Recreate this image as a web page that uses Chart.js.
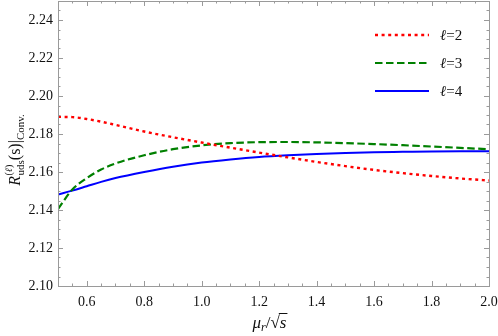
<!DOCTYPE html>
<html>
<head>
<meta charset="utf-8">
<script src="https://cdn.jsdelivr.net/npm/chart.js@4.4.0/dist/chart.umd.min.js"></script>
<style>
    html, body { margin: 0; padding: 0; background: #fff; }
    #wrap { width: 498px; height: 336px; }
</style>
</head>
<body>
<div id="wrap"><canvas id="chart" width="498" height="336"></canvas></div>
<script>
// Valores de mu_r / sqrt(s)
const muValues = [0.5, 0.55, 0.6, 0.65, 0.7, 0.8, 0.9, 1.0, 1.1, 1.2, 1.3, 1.4, 1.5, 1.6, 1.7, 1.8, 1.9, 2.0];

// R_uds para cada ordem l
const rL2 = [2.1890, 2.1889, 2.1879, 2.1865, 2.1848, 2.1813, 2.1783, 2.1755, 2.1728, 2.1702, 2.1677, 2.1653, 2.1631, 2.1611, 2.1594, 2.1579, 2.1566, 2.1555];
const rL3 = [2.1405, 2.1508, 2.1568, 2.1613, 2.1645, 2.1688, 2.1720, 2.1740, 2.1752, 2.1757, 2.1758, 2.1756, 2.1752, 2.1747, 2.1741, 2.1734, 2.1727, 2.1720];
const rL4 = [2.1482, 2.1502, 2.1525, 2.1548, 2.1568, 2.1600, 2.1628, 2.1650, 2.1666, 2.1679, 2.1688, 2.1695, 2.1700, 2.1704, 2.1706, 2.1708, 2.1709, 2.1709];

const seriesLabels = ['2', '3', '4'];

// Rótulos dos eixos
const xTicks = [0.6, 0.8, 1.0, 1.2, 1.4, 1.6, 1.8, 2.0];
const xTickLabels = ['0.6', '0.8', '1.0', '1.2', '1.4', '1.6', '1.8', '2.0'];
const yTicks = [2.10, 2.12, 2.14, 2.16, 2.18, 2.20, 2.22, 2.24];
const yTickLabels = ['2.10', '2.12', '2.14', '2.16', '2.18', '2.20', '2.22', '2.24'];

const SERIF = "'Liberation Serif', 'DejaVu Serif', serif";
const FRAME = '#9a9a9a';

const toPoints = (ys) => ys.map((y, i) => ({ x: muValues[i], y }));

// desenha uma sequência de pedaços de texto (normal / itálico / sub / sobrescrito)
function drawPieces(ctx, pieces, x, y) {
    let cx = x;
    pieces.forEach(p => {
        ctx.font = `${p.italic ? 'italic ' : ''}${p.size}px ${SERIF}`;
        ctx.fillText(p.text, cx, y + (p.dy || 0));
        cx += ctx.measureText(p.text).width;
    });
    return cx;
}

function piecesWidth(ctx, pieces) {
    let w = 0;
    pieces.forEach(p => {
        ctx.font = `${p.italic ? 'italic ' : ''}${p.size}px ${SERIF}`;
        w += ctx.measureText(p.text).width;
    });
    return w;
}

// Moldura estilo Mathematica, com marcas internas
const framePlugin = {
    id: 'frame',
    afterDatasetsDraw(chart) {
        const ctx = chart.ctx;
        const { left, right, top, bottom } = chart.chartArea;
        const xs = chart.scales.x, ys = chart.scales.y;
        ctx.save();
        ctx.strokeStyle = FRAME;
        ctx.lineWidth = 1;
        ctx.beginPath();
        for (let i = 10; i <= 40; i++) {
            const px = Math.round(xs.getPixelForValue(i / 20)) + 0.5;
            const len = i % 4 === 0 ? 5 : 2.5;
            ctx.moveTo(px, bottom); ctx.lineTo(px, bottom - len);
            ctx.moveTo(px, top); ctx.lineTo(px, top + len);
        }
        for (let i = 420; i <= 450; i++) {
            const py = Math.round(ys.getPixelForValue(i / 200)) + 0.5;
            const len = i % 4 === 0 ? 5 : 2.5;
            ctx.moveTo(left, py); ctx.lineTo(left + len, py);
            ctx.moveTo(right, py); ctx.lineTo(right - len, py);
        }
        ctx.stroke();
        ctx.strokeRect(Math.round(left) + 0.5, Math.round(top) + 0.5, Math.round(right - left), Math.round(bottom - top));
        ctx.restore();
    },
    afterDraw(chart) {
        const ctx = chart.ctx;
        const { left, right, top } = chart.chartArea;
        ctx.save();
        ctx.fillStyle = '#111';
        ctx.textBaseline = 'alphabetic';

        // Legenda dentro da área do gráfico
        chart.data.datasets.forEach((ds, i) => {
            const y = top + 34 + i * 28;
            const x0 = right - 114;
            ctx.save();
            ctx.strokeStyle = ds.borderColor;
            ctx.lineWidth = ds.borderWidth;
            ctx.setLineDash(ds.borderDash || []);
            ctx.beginPath();
            ctx.moveTo(x0, y); ctx.lineTo(x0 + 54, y);
            ctx.stroke();
            ctx.restore();
            drawPieces(ctx, [
                { text: 'ℓ', italic: true, size: 15 },
                { text: '=' + seriesLabels[i], size: 15 }
            ], x0 + 65, y + 5);
        });

        // Título do eixo y: R_uds^(l)(s)|Conv.
        ctx.save();
        ctx.translate(15, 150);
        ctx.rotate(-Math.PI / 2);
        ctx.font = `italic 16px ${SERIF}`;
        const rW = ctx.measureText('R').width + 0.5;
        const sub = [{ text: 'uds', size: 11, dy: 3.5 }];
        const rest = [
            { text: '(s)|', size: 16 },
            { text: 'Conv.', size: 11, dy: 3.5 }
        ];
        const total = rW + piecesWidth(ctx, sub) + piecesWidth(ctx, rest);
        const sx = -total / 2;
        drawPieces(ctx, [{ text: 'R', italic: true, size: 16 }], sx, 5);
        drawPieces(ctx, [
            { text: '(', size: 10 },
            { text: 'ℓ', italic: true, size: 10 },
            { text: ')', size: 10 }
        ], sx + rW, -3.5);
        const after = drawPieces(ctx, sub, sx + rW, 5);
        drawPieces(ctx, rest, after, 5);
        ctx.restore();

        // Título do eixo x: mu_r / sqrt(s)
        const xPieces = [
            { text: 'μ', italic: true, size: 17 },
            { text: 'r', italic: true, size: 12, dy: 3 },
            { text: '/', size: 17 },
            { text: '√', size: 17 },
            { text: 's', italic: true, size: 17 }
        ];
        const xw = piecesWidth(ctx, xPieces);
        const cx = (left + right) / 2 - 4 - xw / 2;
        const baseY = 328;
        drawPieces(ctx, xPieces, cx, baseY);
        const pre = piecesWidth(ctx, xPieces.slice(0, 4));
        ctx.strokeStyle = '#111';
        ctx.lineWidth = 1;
        ctx.beginPath();
        ctx.moveTo(cx + pre - 1, baseY - 14.5);
        ctx.lineTo(cx + xw + 1, baseY - 14.5);
        ctx.stroke();
        ctx.restore();
    }
};

new Chart(document.getElementById('chart'), {
    type: 'line',
    data: {
        datasets: [
            { label: 'l=2', data: toPoints(rL2), borderColor: 'rgb(255,0,0)', borderWidth: 2.4, borderDash: [3, 3.6] },
            { label: 'l=3', data: toPoints(rL3), borderColor: 'rgb(0,128,0)', borderWidth: 2.2, borderDash: [7.5, 3.5] },
            { label: 'l=4', data: toPoints(rL4), borderColor: 'rgb(0,0,255)', borderWidth: 2 }
        ]
    },
    options: {
        responsive: false,
        animation: false,
        devicePixelRatio: 1,
        elements: {
            point: { radius: 0 },
            line: { cubicInterpolationMode: 'monotone', fill: false }
        },
        layout: { padding: { left: 0, right: 9, top: 1, bottom: 0 } },
        plugins: { legend: { display: false }, tooltip: { enabled: false } },
        scales: {
            x: {
                type: 'linear',
                min: 0.5, max: 2.0,
                grid: { display: false, drawTicks: false },
                border: { display: false },
                afterBuildTicks: (scale) => { scale.ticks = xTicks.map(v => ({ value: v })); },
                afterFit: (scale) => {
                    scale.height = 50;
                    scale.paddingLeft = 0;
                    scale.paddingRight = 0;
                },
                ticks: {
                    padding: 8,
                    color: '#111',
                    maxRotation: 0,
                    font: { family: SERIF, size: 14 },
                    callback: (v) => xTickLabels[xTicks.findIndex(t => Math.abs(t - v) < 1e-6)]
                }
            },
            y: {
                min: 2.10, max: 2.25,
                grid: { display: false, drawTicks: false },
                border: { display: false },
                afterBuildTicks: (scale) => { scale.ticks = yTicks.map(v => ({ value: v })); },
                afterFit: (scale) => {
                    scale.width = 58;
                    scale.paddingTop = 0;
                    scale.paddingBottom = 0;
                },
                ticks: {
                    padding: 5,
                    color: '#111',
                    font: { family: SERIF, size: 14 },
                    callback: (v) => yTickLabels[yTicks.findIndex(t => Math.abs(t - v) < 1e-6)]
                }
            }
        }
    },
    plugins: [framePlugin]
});
</script>
</body>
</html>
